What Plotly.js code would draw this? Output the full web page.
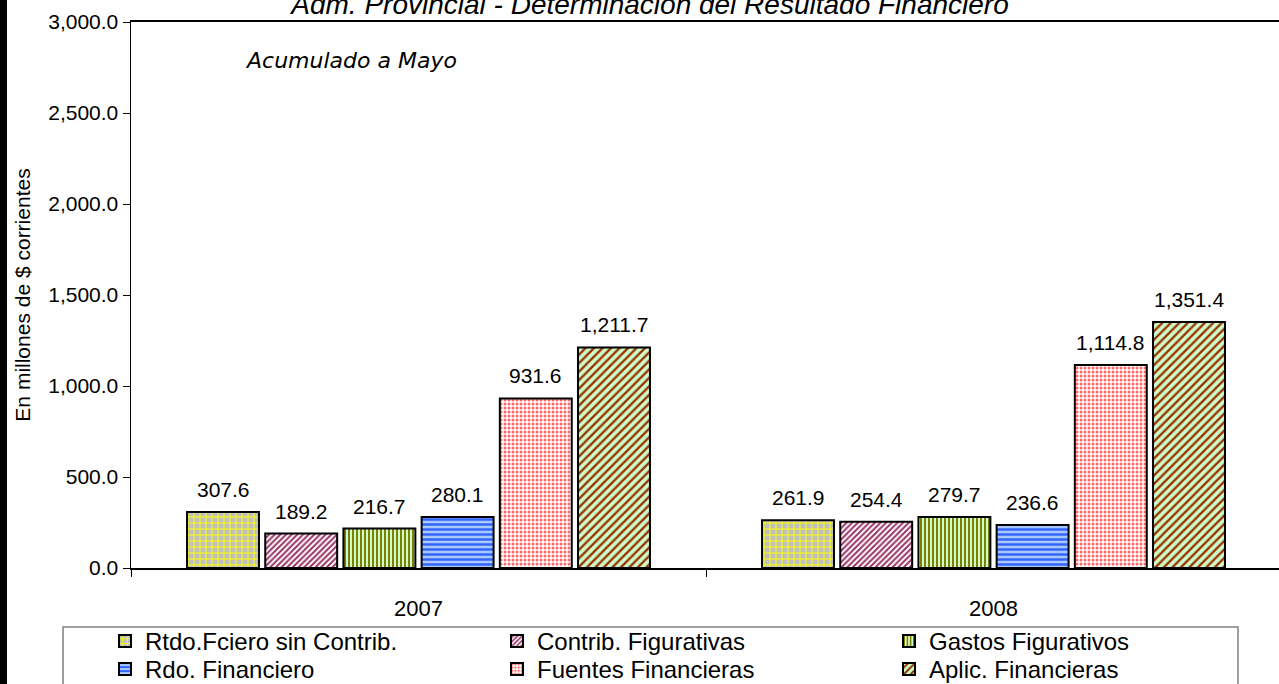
<!DOCTYPE html>
<html>
<head>
<meta charset="utf-8">
<script src="https://cdn.plot.ly/plotly-3.0.1.min.js"></script>
<style>
  html, body { margin: 0; padding: 0; background: #ffffff; overflow: hidden; width: 1279px; height: 684px; }
  #chart { position: absolute; left: 0; top: -20px; width: 1300px; height: 760px; }
  #strip { position: absolute; left: 0; top: 0; width: 7px; height: 684px; background: #000000; z-index: 10; }
</style>
</head>
<body>
<div id="chart"></div>
<div id="strip"></div>
<script>
// ---- data ----
const years = ['2007', '2008'];
const seriesNames = ['Rtdo.Fciero sin Contrib.', 'Contrib. Figurativas', 'Gastos Figurativos',
                     'Rdo. Financiero', 'Fuentes Financieras', 'Aplic. Financieras'];
const rtdoSinContrib = [307.6, 261.9];
const contribFigurativas = [189.2, 254.4];
const gastosFigurativos = [216.7, 279.7];
const rdoFinanciero = [280.1, 236.6];
const fuentesFinancieras = [931.6, 1114.8];
const aplicFinancieras = [1211.7, 1351.4];
const seriesValues = [rtdoSinContrib, contribFigurativas, gastosFigurativos,
                      rdoFinanciero, fuentesFinancieras, aplicFinancieras];
const yTickVals = [0, 500, 1000, 1500, 2000, 2500, 3000];

// ---- styles ----
const patterns = [
  {shape: '+', fgcolor: '#ffff00', bgcolor: '#c0c0c0', size: 6, solidity: 0.3},
  {shape: '/', fgcolor: '#993366', bgcolor: '#ffffff', size: 4, solidity: 0.5},
  {shape: '|', fgcolor: '#808000', bgcolor: '#ccffcc', size: 4, solidity: 0.5},
  {shape: '-', fgcolor: '#3366ff', bgcolor: '#a8c8ff', size: 5, solidity: 0.5},
  {shape: '.', fgcolor: '#ff6666', bgcolor: '#ffffff', size: 4, solidity: 0.45},
  {shape: '/', fgcolor: '#993300', bgcolor: '#ccffcc', size: 6, solidity: 0.4}
];
const legendOf = ['legend', 'legend', 'legend', 'legend2', 'legend2', 'legend2'];
const FONT = 'Arial, "Liberation Sans", sans-serif';
const BARGAP = 0.184;
const BARGROUPGAP = 0.08;

function fmt(v) {
  const parts = v.toFixed(1).split('.');
  return parts[0].replace(/\B(?=(\d{3})+(?!\d))/g, ',') + '.' + parts[1];
}

const traces = seriesNames.map((name, j) => ({
  type: 'bar',
  name: name,
  legend: legendOf[j],
  x: years,
  y: seriesValues[j],
  marker: {
    color: patterns[j].bgcolor,
    pattern: patterns[j],
    line: {color: '#000000', width: 2}
  },
  hoverinfo: 'skip'
}));

// value labels, positioned from data through the axes
const nS = seriesNames.length;
const slot = (1 - BARGAP) / nS;
const labelAnnotations = [];
seriesValues.forEach((vals, j) => {
  vals.forEach((v, i) => {
    labelAnnotations.push({
      xref: 'x', yref: 'y',
      x: i + (j - (nS - 1) / 2) * slot,
      y: v,
      text: fmt(v),
      showarrow: false,
      xanchor: 'center', yanchor: 'bottom',
      yshift: 9,
      font: {family: FONT, size: 21, color: '#000000'}
    });
  });
});

const legendBase = {
  orientation: 'h',
  x: -0.0226, xanchor: 'left', yanchor: 'top',
  entrywidth: 347, entrywidthmode: 'pixels',
  bgcolor: 'rgba(0,0,0,0)', borderwidth: 0,
  font: {family: FONT, size: 24, color: '#000000'},
  traceorder: 'normal'
};

const layout = {
  width: 1300,
  height: 760,
  margin: {l: 131, r: 19, t: 42, b: 172, pad: 0},
  paper_bgcolor: '#ffffff',
  plot_bgcolor: '#ffffff',
  font: {family: FONT, color: '#000000'},
  barmode: 'group',
  bargap: BARGAP,
  bargroupgap: BARGROUPGAP,
  showlegend: true,
  title: {
    text: 'Adm. Provincial - Determinación del Resultado Financiero',
    font: {family: FONT, size: 28, color: '#000000', style: 'italic'},
    xref: 'container', x: 0.5, xanchor: 'center',
    yref: 'container', y: 1 - 24 / 760, yanchor: 'middle'
  },
  xaxis: {
    type: 'category',
    showline: true, linecolor: '#000000', linewidth: 2, mirror: true,
    ticks: 'outside', tickson: 'boundaries', ticklen: 7, tickcolor: '#000000', tickwidth: 1,
    ticklabelstandoff: 20,
    tickfont: {family: FONT, size: 22, color: '#000000'},
    showgrid: false, zeroline: false, automargin: false, fixedrange: true
  },
  yaxis: {
    range: [0, 3000],
    tickvals: yTickVals,
    tickformat: ',.1f',
    showline: true, linecolor: '#000000', linewidth: 1.5,
    ticks: 'outside', ticklen: 7, tickcolor: '#000000', tickwidth: 1,
    tickfont: {family: FONT, size: 21, color: '#000000'},
    showgrid: false, zeroline: false, automargin: false, fixedrange: true,
    title: {
      text: 'En millones de $ corrientes',
      font: {family: FONT, size: 21, color: '#000000'},
      standoff: 12
    }
  },
  legend: Object.assign({}, legendBase, {y: -0.0934}),
  legend2: Object.assign({}, legendBase, {y: -0.1447}),
  shapes: [{
    type: 'rect', xref: 'paper', yref: 'paper',
    x0: -0.0591, x1: 0.9626, y0: -0.108, y1: -0.30,
    line: {color: '#808080', width: 1.5}, fillcolor: 'rgba(0,0,0,0)', layer: 'below'
  }],
  annotations: labelAnnotations.concat([{
    xref: 'paper', yref: 'paper', x: 0.1909, y: 0.930,
    xanchor: 'center', yanchor: 'middle', showarrow: false,
    text: 'Acumulado a Mayo',
    font: {family: '"DejaVu Sans", sans-serif', size: 22, color: '#000000', style: 'italic'}
  }])
};

Plotly.newPlot('chart', traces, layout, {displayModeBar: false, staticPlot: true});
</script>
</body>
</html>
